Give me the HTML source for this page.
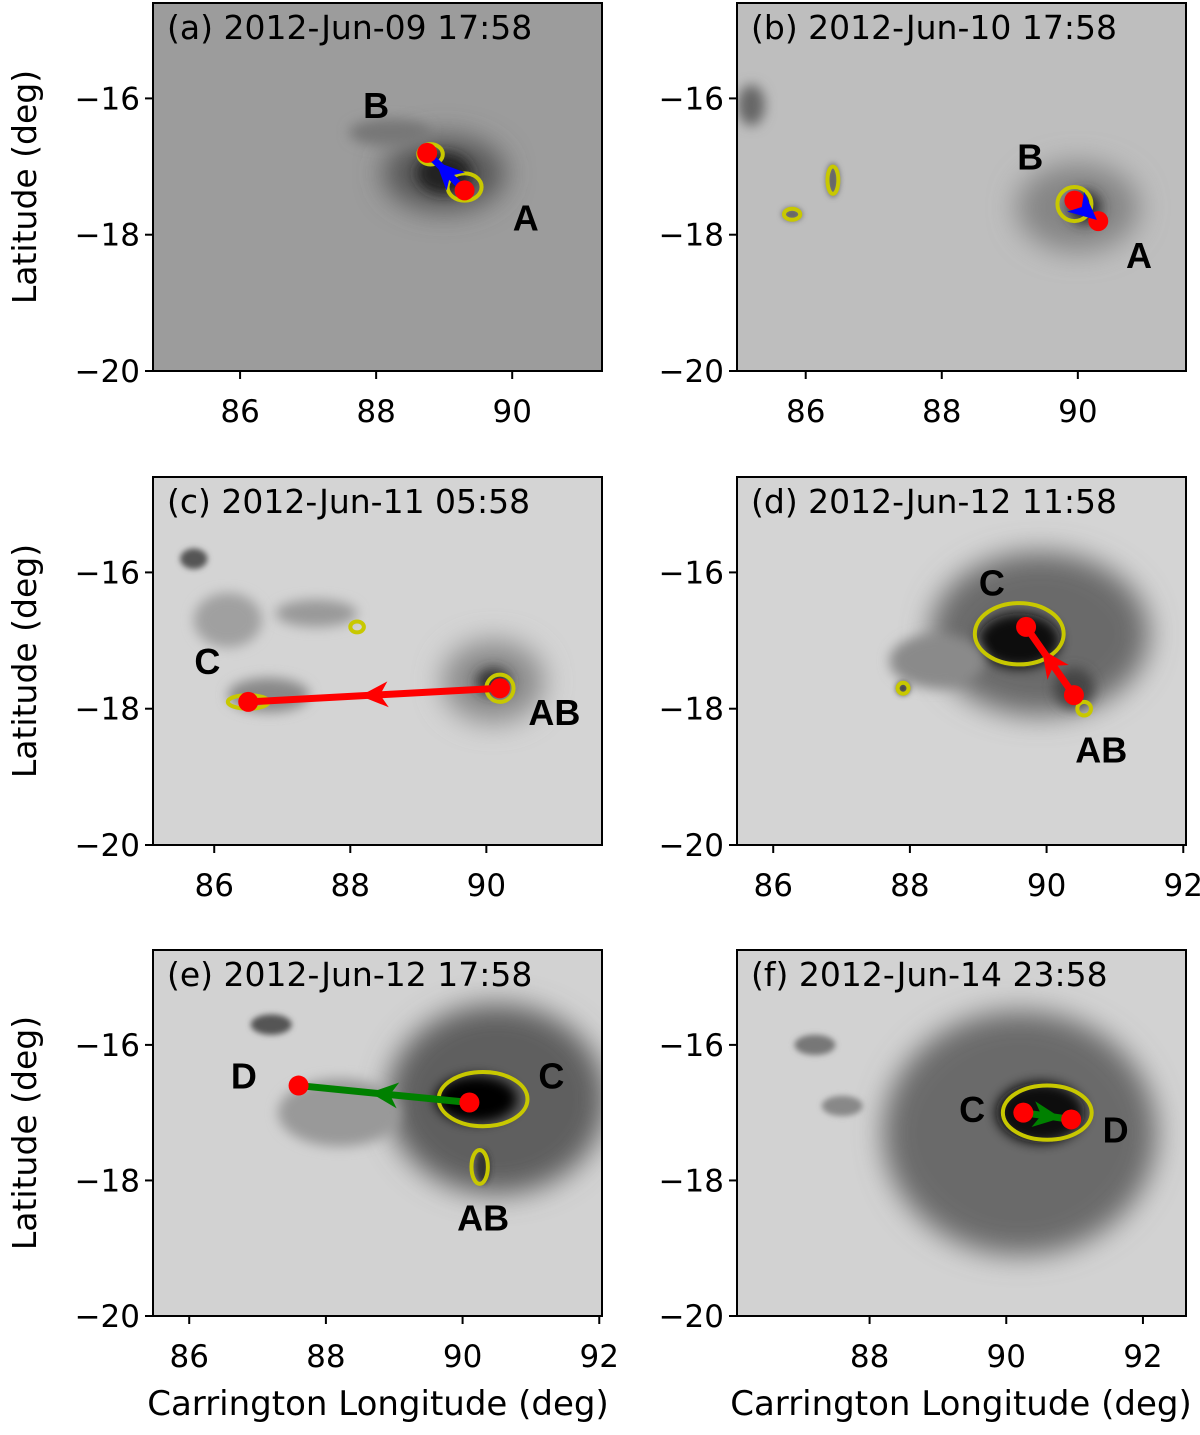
<!DOCTYPE html>
<html><head><meta charset="utf-8"><style>
html,body{margin:0;padding:0;background:#fff}
svg{display:block;font-family:"DejaVu Sans","Liberation Sans",sans-serif}
</style></head><body>
<svg id="fig" width="1200" height="1435" viewBox="0 0 1200 1435" xmlns="http://www.w3.org/2000/svg">
<defs>
<filter id="b6" x="-50%" y="-50%" width="200%" height="200%"><feGaussianBlur stdDeviation="6"/></filter>
<filter id="b14" x="-50%" y="-50%" width="200%" height="200%"><feGaussianBlur stdDeviation="14"/></filter>
<filter id="b3" x="-50%" y="-50%" width="200%" height="200%"><feGaussianBlur stdDeviation="3"/></filter>
</defs>
<text transform="translate(36,187) rotate(-90)" text-anchor="middle" font-size="33">Latitude (deg)</text>
<text transform="translate(36,661) rotate(-90)" text-anchor="middle" font-size="33">Latitude (deg)</text>
<text transform="translate(36,1133) rotate(-90)" text-anchor="middle" font-size="33">Latitude (deg)</text>
<text x="378" y="1415" text-anchor="middle" font-size="34">Carrington Longitude (deg)</text>
<text x="961" y="1415" text-anchor="middle" font-size="34">Carrington Longitude (deg)</text>
</svg>
<script>
const NS="http://www.w3.org/2000/svg";
const svg=document.getElementById('fig');
// data arrays
const panelTitles=["(a) 2012-Jun-09 17:58","(b) 2012-Jun-10 17:58","(c) 2012-Jun-11 05:58","(d) 2012-Jun-12 11:58","(e) 2012-Jun-12 17:58","(f) 2012-Jun-14 23:58"];
const xTicks=[[86,88,90],[86,88,90],[86,88,90],[86,88,90,92],[86,88,90,92],[88,90,92]];
const yTicks=[-16,-18,-20];
const xLims=[[84.72,91.32],[84.99,91.59],[85.1,91.7],[85.47,92.04],[85.47,92.04],[86.06,92.63]];
const yLims=[[-14.6,-20],[-14.6,-20],[-14.6,-20],[-14.6,-20],[-14.6,-20],[-14.6,-20]];
const boxes=[[153,3,449,368],[737,3,449,368],[153,477,449,368],[737,477,449,368],[153,950,449,366],[737,950,449,366]];
const bgColors=["#9c9c9c","#bebebe","#d4d4d4","#d4d4d4","#d2d2d2","#d2d2d2"];
// features: [lon, lat, rxDeg, ryDeg, color, blur]
const blobs=[
 [[89.0,-17.1,0.9,0.55,"#555",'b14'],[89.0,-17.1,0.4,0.3,"#222",'b6'],[88.2,-16.5,0.6,0.2,"#777",'b6']],
 [[90.0,-17.6,0.9,0.65,"#858585",'b14'],[90.1,-17.6,0.25,0.25,"#333",'b6'],[86.4,-17.2,0.1,0.25,"#666",'b3'],[85.8,-17.7,0.15,0.1,"#666",'b3'],[85.2,-16.1,0.2,0.3,"#666",'b6']],
 [[90.1,-17.6,0.75,0.6,"#8a8a8a",'b14'],[90.1,-17.6,0.25,0.2,"#333",'b6'],[86.8,-17.8,0.6,0.25,"#888",'b6'],[87.5,-16.6,0.6,0.2,"#999",'b6'],[85.7,-15.8,0.2,0.15,"#555",'b3'],[86.2,-16.7,0.5,0.4,"#a0a0a0",'b6']],
 [[89.9,-16.9,1.6,1.2,"#6a6a6a",'b14'],[89.6,-17.0,0.6,0.4,"#0a0a0a",'b6'],[88.4,-17.3,0.7,0.4,"#8a8a8a",'b6'],[90.4,-17.7,0.3,0.3,"#444",'b6'],[87.9,-17.7,0.1,0.1,"#444",'b3']],
 [[90.5,-16.8,1.6,1.4,"#5f5f5f",'b14'],[90.2,-16.8,0.6,0.35,"#050505",'b6'],[88.2,-17.0,0.9,0.5,"#999",'b6'],[87.2,-15.7,0.3,0.15,"#555",'b3'],[90.3,-17.8,0.1,0.25,"#333",'b3']],
 [[90.2,-17.3,2.0,1.8,"#6a6a6a",'b14'],[90.5,-17.0,0.65,0.45,"#080808",'b6'],[87.2,-16.0,0.3,0.15,"#777",'b3'],[87.6,-16.9,0.3,0.15,"#888",'b3']]
];
// contour ellipses: [lon, lat, rxDeg, ryDeg]
const contours=[
 [[88.8,-16.82,0.18,0.15],[89.3,-17.3,0.25,0.2]],
 [[89.95,-17.55,0.25,0.25],[86.4,-17.2,0.08,0.2],[85.8,-17.7,0.12,0.08]],
 [[90.2,-17.7,0.2,0.2],[86.5,-17.9,0.3,0.1],[88.1,-16.8,0.1,0.08]],
 [[89.6,-16.9,0.65,0.45],[90.55,-18.0,0.1,0.1],[87.9,-17.7,0.08,0.08]],
 [[90.3,-16.8,0.65,0.4],[90.25,-17.8,0.12,0.25]],
 [[90.6,-17.0,0.65,0.4]]
];
// centroids [fromLon, fromLat, toLon, toLat]
const vectors=[[89.3,-17.35,88.75,-16.8],[89.95,-17.5,90.3,-17.8],[90.2,-17.7,86.5,-17.9],[90.4,-17.8,89.7,-16.8],[90.1,-16.85,87.6,-16.6],[90.25,-17.0,90.95,-17.1]];
const vecColors=["#0000ff","#0000ff","#ff0000","#ff0000","#008000","#008000"];
// region labels [text, lon, lat]
const labels=[
 [["B",88.0,-16.15],["A",90.2,-17.8]],
 [["B",89.3,-16.9],["A",90.9,-18.35]],
 [["C",85.9,-17.35],["AB",91.0,-18.1]],
 [["C",89.2,-16.2],["AB",90.8,-18.65]],
 [["D",86.8,-16.5],["C",91.3,-16.5],["AB",90.3,-18.6]],
 [["C",89.5,-17.0],["D",91.6,-17.3]]
];
function mk(tag,attrs,parent){const e=document.createElementNS(NS,tag);for(const k in attrs)e.setAttribute(k,attrs[k]);(parent||svg).appendChild(e);return e;}
panelTitles.forEach((title,i)=>{
 const [bx,by,bw,bh]=boxes[i];const [x0,x1]=xLims[i];const [y0,y1]=yLims[i];
 const sx=v=>bx+(v-x0)/(x1-x0)*bw;const sy=v=>by+(v-y0)/(y1-y0)*bh;
 const kx=bw/(x1-x0), ky=bh/Math.abs(y1-y0);
 const g=mk('g',{});
 
 
 const cp=mk('clipPath',{id:'cp'+i},g);mk('rect',{x:bx,y:by,width:bw,height:bh},cp);
 const inner=mk('g',{'clip-path':'url(#cp'+i+')'},g);
 const bg=mk('rect',{x:bx,y:by,width:bw,height:bh,fill:bgColors[i]},inner);
 
 
 blobs[i].forEach(b=>{const e=mk('ellipse',{cx:sx(b[0]),cy:sy(b[1]),rx:b[2]*kx,ry:b[3]*ky,fill:b[4],filter:'url(#'+b[5]+')'},inner);
  
  });
 contours[i].forEach(c=>{const e=mk('ellipse',{cx:sx(c[0]),cy:sy(c[1]),rx:c[2]*kx,ry:c[3]*ky,fill:'none',stroke:'#c8c800','stroke-width':4},inner);
  
  });
 const v=vectors[i];const ax=sx(v[0]),ay=sy(v[1]),bx2=sx(v[2]),by2=sy(v[3]);
 const ln=mk('line',{x1:ax,y1:ay,x2:bx2,y2:by2,stroke:vecColors[i],'stroke-width':7},inner);
 
 
 [[ax,ay],[bx2,by2]].forEach(p=>{const c=mk('circle',{cx:p[0],cy:p[1],r:10,fill:'#ff0000'},inner);
  
  });
 const mx=(ax+bx2)/2,my=(ay+by2)/2,ang=Math.atan2(by2-ay,bx2-ax)*180/Math.PI;
 const hd=mk('path',{d:'M14,0 L-14,-13 L-6,0 L-14,13 Z',fill:vecColors[i],transform:`translate(${mx},${my}) rotate(${ang})`},inner);
 
 
 labels[i].forEach(l=>{const t=mk('text',{x:sx(l[1]),y:sy(l[2]),'text-anchor':'middle','dominant-baseline':'middle','font-size':36,'font-weight':'bold','font-family':'Liberation Sans, sans-serif'},inner);t.textContent=l[0];
  
  });
 const tt=mk('text',{x:bx+14,y:by+36,'font-size':33},g);tt.textContent=title;
 
 
 const fr=mk('rect',{x:bx,y:by,width:bw,height:bh,fill:'none',stroke:'#000','stroke-width':2},g);
 
 
 xTicks[i].forEach(t=>{const x=sx(t);mk('line',{x1:x,y1:by+bh,x2:x,y2:by+bh+8,stroke:'#000','stroke-width':2},g);
  const tl=mk('text',{x:x,y:by+bh+51,'text-anchor':'middle','font-size':31},g);tl.textContent=t;
  
  });
 yTicks.forEach(t=>{const y=sy(t);mk('line',{x1:bx-8,y1:y,x2:bx,y2:y,stroke:'#000','stroke-width':2},g);
  const tl=mk('text',{x:bx-13,y:y+11,'text-anchor':'end','font-size':31},g);tl.textContent='\u2212'+Math.abs(t);
  
  });
});
</script>
</body></html>
